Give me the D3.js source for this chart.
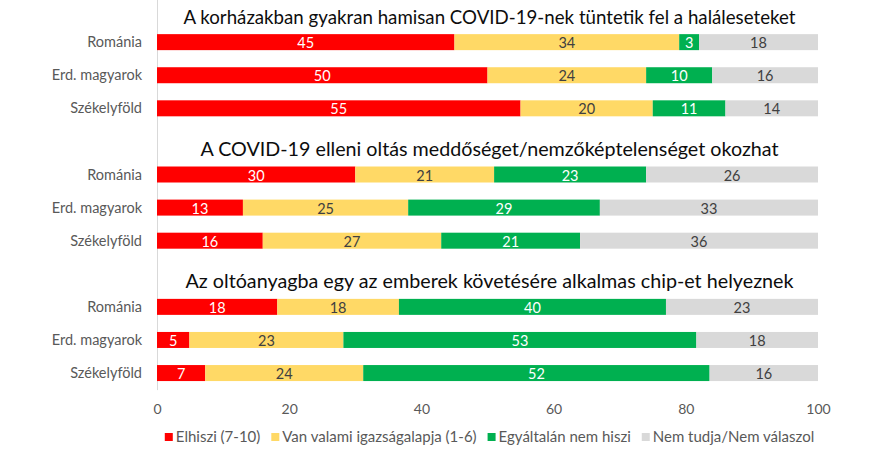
<!DOCTYPE html>
<html>
<head>
<meta charset="utf-8">
<script src="https://cdn.jsdelivr.net/npm/d3@7"></script>
<style>
  body { margin: 0; background: #fff; }
  svg { display: block; font-family: Lato, "Open Sans", sans-serif; }
</style>
</head>
<body>
<div id="chart-wrap"></div>
<script>
const width = 878;
const height = 459;

const titles = [
  "A korházakban gyakran hamisan COVID-19-nek tüntetik fel a haláleseteket",
  "A COVID-19 elleni oltás meddőséget/nemzőképtelenséget okozhat",
  "Az oltóanyagba egy az emberek követésére alkalmas chip-et helyeznek"
];
const regions = ["Románia", "Erd. magyarok", "Székelyföld"];
const series = ["Elhiszi (7-10)", "Van valami igazságalapja (1-6)", "Egyáltalán nem hiszi", "Nem tudja/Nem válaszol"];
const colors = ["#ff0000", "#ffd966", "#00b050", "#d9d9d9"];
const labelColors = ["#ffffff", "#404040", "#ffffff", "#404040"];

// values per question, rows = regions, columns = series
const q1 = [[45, 34, 3, 18], [50, 24, 10, 16], [55, 20, 11, 14]];
const q2 = [[30, 21, 23, 26], [13, 25, 29, 33], [16, 27, 21, 36]];
const q3 = [[18.2, 18.4, 40.4, 23.0], [4.9, 23.3, 53.4, 18.4], [7.3, 23.9, 52.4, 16.4]];
const questions = [q1, q2, q3];
const xTicks = [0, 20, 40, 60, 80, 100];

const margin = {left: 157, right: 60};
const titleWidths = [612, 578, 608];

// slots: title + 3 rows per question
const slots = [];
questions.forEach((q, qi) => {
  slots.push("t" + qi);
  regions.forEach((r, ri) => slots.push(qi + "-" + ri));
});

const x = d3.scaleLinear().domain([0, 100]).range([margin.left, width - margin.right]);
const y = d3.scalePoint().domain(slots).range([-7.5, 389.6]).padding(0.5);
const barH = 16;

const svg = d3.select("#chart-wrap").append("svg")
  .attr("width", width)
  .attr("height", height);

// vertical axis line
svg.append("g")
  .attr("transform", "translate(" + margin.left + ",0)")
  .call(d3.axisLeft(y).tickSize(0).tickFormat(""))
  .call(g => g.select(".domain").attr("stroke", "#d9d9d9"));

// bottom tick labels
svg.append("g")
  .attr("transform", "translate(0,396)")
  .call(d3.axisBottom(x).tickValues(xTicks).tickSize(0).tickPadding(8))
  .call(g => g.select(".domain").remove())
  .call(g => g.selectAll("text")
    .attr("fill", "#595959")
    .style("font-size", "14px")
    .style("font-family", "Lato, sans-serif"));

questions.forEach((q, qi) => {
  svg.append("text")
    .attr("x", (x(0) + x(100)) / 2 + 2)
    .attr("y", y("t" + qi) + 8)
    .attr("dy", "0.35em")
    .attr("text-anchor", "middle")
    .attr("fill", "#0d0d0d")
    .attr("textLength", titleWidths[qi])
    .attr("lengthAdjust", "spacingAndGlyphs")
    .style("font-size", "19px")
    .text(titles[qi]);

  q.forEach((row, ri) => {
    const cy = y(qi + "-" + ri);
    svg.append("text")
      .attr("x", 142)
      .attr("y", cy)
      .attr("dy", "0.35em")
      .attr("text-anchor", "end")
      .attr("fill", "#595959")
      .style("font-size", "14.5px")
      .text(regions[ri]);

    const stacked = [];
    let acc = 0;
    row.forEach((v, si) => {
      stacked.push({x0: acc, x1: acc + v, v: v, si: si});
      acc += v;
    });

    const g = svg.append("g");
    g.selectAll("rect")
      .data(stacked)
      .join("rect")
      .attr("x", d => x(d.x0))
      .attr("width", d => x(d.x1) - x(d.x0))
      .attr("y", cy - barH / 2)
      .attr("height", barH)
      .attr("fill", d => colors[d.si]);

    g.selectAll("text")
      .data(stacked)
      .join("text")
      .attr("x", d => (x(d.x0) + x(d.x1)) / 2)
      .attr("y", cy + 1)
      .attr("dy", "0.35em")
      .attr("text-anchor", "middle")
      .attr("fill", d => labelColors[d.si])
      .style("font-size", "14.5px")
      .text(d => Math.round(d.v));
  });
});

// legend
const legend = svg.append("g").attr("transform", "translate(0,437)");
const items = legend.selectAll("g")
  .data(series)
  .join("g");
items.append("rect")
  .attr("width", 8)
  .attr("height", 8)
  .attr("y", -4)
  .attr("fill", (d, i) => colors[i]);
items.append("text")
  .attr("x", 11)
  .attr("dy", "0.35em")
  .attr("fill", "#595959")
  .style("font-size", "15px")
  .text(d => d);

const gap = 11;
const widths = [];
items.each(function() { widths.push(this.getBBox().width); });
const total = d3.sum(widths) + gap * (widths.length - 1);
let lx = (x(0) + x(100)) / 2 - total / 2 + 2;
items.attr("transform", (d, i) => {
  const t = "translate(" + lx + ",0)";
  lx += widths[i] + gap;
  return t;
});
</script>
</body>
</html>
